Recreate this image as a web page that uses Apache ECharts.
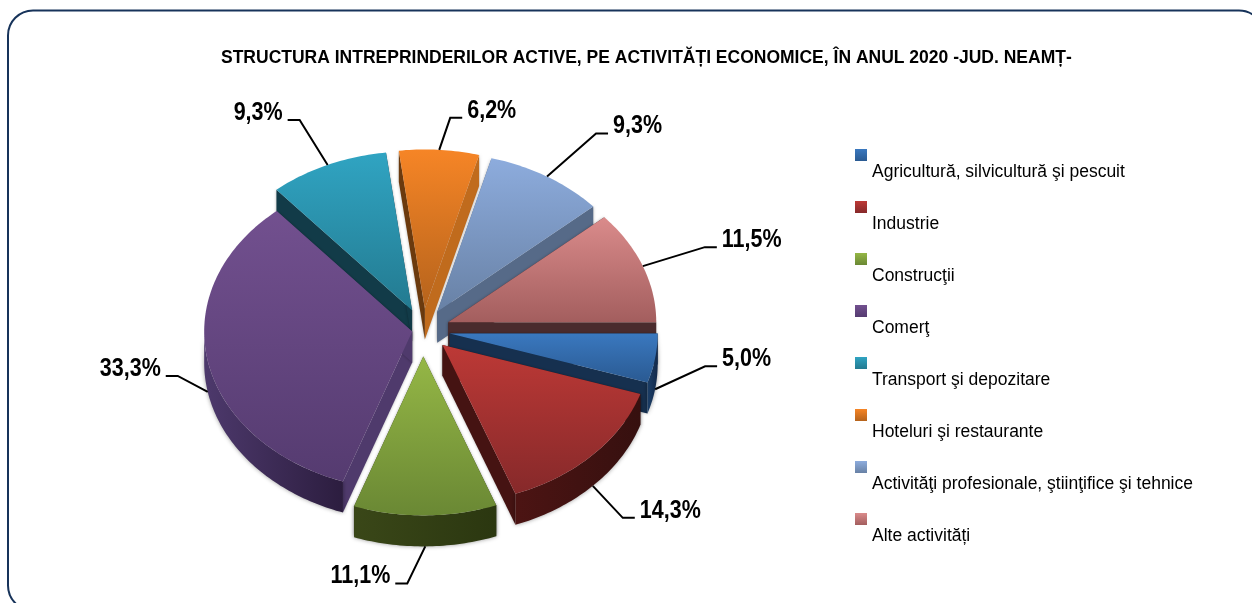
<!DOCTYPE html>
<html><head><meta charset="utf-8">
<style>html,body{margin:0;padding:0;background:#fff}#c{width:1252px;height:603px}</style>
<script src="https://cdn.jsdelivr.net/npm/echarts@6/dist/echarts.min.js"></script>
</head><body><div id="c"></div>
<script>
const titleText = 'STRUCTURA INTREPRINDERILOR ACTIVE, PE ACTIVITĂȚI ECONOMICE, ÎN ANUL 2020 -JUD. NEAMȚ-';
const categories = ['Agricultură, silvicultură şi pescuit','Industrie','Construcţii','Comerţ','Transport şi depozitare','Hoteluri şi restaurante','Activităţi profesionale, ştiinţifice şi tehnice','Alte activități'];
const values = [5.0,14.3,11.1,33.3,9.3,6.2,9.3,11.5];
const valueLabels = ['5,0%','14,3%','11,1%','33,3%','9,3%','6,2%','9,3%','11,5%'];

// Appearance only, separate from the data
const FONT = '"Liberation Sans",Arial,sans-serif';
const faceColors = [['#3a78bf','#2a5a92'],['#bd3936','#86292a'],['#95b746','#6a8834'],['#72508f','#553b70'],['#30a4c2','#237a90'],['#f68526','#b5631c'],['#8dacdd','#6881a5'],['#da8b8b','#a35e5e']];
const edgeWall = [['#16304f','#16304f'],['#451312','#451312'],['#2e3a12','#2e3a12'],['#4f3a6c','#4f3a6c'],['#123b48','#123b48'],['#6b3a0e','#c06b1d'],['#566a88','#566a88'],['#4a2b2d','#4a2b2d']];
const outerWall = [['#1c3f68','#13294a'],['#4c1413','#36100f'],['#3a4718','#2b3710'],['#4d396c','#2c1d3f'],['#123b48','#123b48'],['#6b3a0e','#6b3a0e'],['#566a88','#566a88'],['#4a2b2d','#4a2b2d']];
const explode = [27,27,33,11,27,27,27,27];
const leaderOffset = [[50,-23],[30,32],[-18,37],[-30,-16],[-28,-45],[11,-32],[49,-43],[62,-19]];
const paintOrder = [4,5,6,7,3,0,1,2];

const CX = 423, CY = 330, RX = 208, RY = 159, DEPTH = 31, TILT = 0.8;
const total = values.reduce((a,b)=>a+b,0);
const startAngles = []; { let a = 0; values.forEach(v=>{ startAngles.push(a); a += v/total*360; }); }
const rad = d => d*Math.PI/180;
const grad = (c, horizontal) => new echarts.graphic.LinearGradient(0,0,horizontal?1:0,horizontal?0:1,[{offset:0,color:c[0]},{offset:1,color:c[1]}]);
// legend swatch: the icon's box reaches down to the text centre line, the visible square sits on top
const LEGEND_ICON = 'path://M0 0h12v12h-12z M0 46h.01v.01h-.01z';
const iconFill = c => new echarts.graphic.LinearGradient(0,0,0,1,[{offset:0,color:c[0]},{offset:12/46,color:c[1]},{offset:1,color:c[1]}]);

function renderSlice(params, api){
  const i = params.seriesIndex;
  const value = api.value(0);
  const a0 = startAngles[i], a1 = a0 + value/total*360, mid = (a0+a1)/2;
  const ax = CX + explode[i]*Math.cos(rad(mid));
  const ay = CY + explode[i]*TILT*Math.sin(rad(mid));
  const P = a => [ax+RX*Math.cos(rad(a)), ay+RY*Math.sin(rad(a))];
  const down = p => [p[0],p[1]+DEPTH];
  const arc = (s,e) => { const r=[]; const n=Math.max(2,Math.ceil(Math.abs(e-s))); for(let k=0;k<=n;k++) r.push(P(s+(e-s)*k/n)); return r; };
  const kids = [];
  const wall = (pts,fill,extra) => kids.push({type:'polygon',shape:{points:pts},style:Object.assign({fill:fill,stroke:null},extra||{})});
  const A=[ax,ay], B=P(a0), E=P(a1);
  const soft = {shadowBlur:3,shadowColor:'rgba(0,0,0,.3)'};
  wall([A,B,down(B),down(A)], edgeWall[i][0], soft);
  wall([A,E,down(E),down(A)], edgeWall[i][1], soft);
  const s=Math.max(a0,0), e=Math.min(a1,180);
  if(e>s){
    const top=arc(s,e);
    wall(top.concat(top.slice().reverse().map(down)), grad(outerWall[i],true), {shadowBlur:4,shadowColor:'rgba(0,0,0,.4)'});
  }
  kids.push({type:'polygon',shape:{points:[A].concat(arc(a0,a1))},style:{fill:grad(faceColors[i],false)}});
  let anchor = P(mid);
  if(Math.sin(rad(mid))>0) anchor = down(anchor);
  const off = leaderOffset[i];
  const elbow = [anchor[0]+off[0],anchor[1]+off[1]];
  const sign = off[0]>0?1:-1;
  const stub = [elbow[0]+sign*12,elbow[1]];
  kids.push({type:'polyline',shape:{points:[anchor,elbow,stub]},style:{stroke:'#000',lineWidth:2,fill:null}});
  kids.push({type:'text',x:stub[0]+sign*5,y:stub[1]-7,scaleX:0.86,style:{text:valueLabels[i],
    align:sign>0?'left':'right',verticalAlign:'middle',fill:'#000',font:'bold 25px '+FONT}});
  return {type:'group',children:kids};
}

const chart = echarts.init(document.getElementById('c'),null,{renderer:'canvas'});
chart.setOption({
  animation:false,
  backgroundColor:'#fff',
  title:{text:titleText,left:221,top:49,padding:0,textStyle:{fontFamily:FONT,fontWeight:'bold',fontSize:17.5,color:'#000'}},
  legend:{orient:'vertical',left:855,top:149,padding:0,icon:LEGEND_ICON,itemWidth:12,itemHeight:46,itemGap:6,selectedMode:false,
    textStyle:{fontFamily:FONT,fontSize:17.5,color:'#000'},
    data:categories.map((n,i)=>({name:n,itemStyle:{color:iconFill(faceColors[i])}}))},
  graphic:[{type:'rect',shape:{x:8,y:10.5,width:1256,height:600,r:25},style:{fill:null,stroke:'#17335a',lineWidth:2},silent:true,z:-1}],
  series:categories.map((n,i)=>({type:'custom',name:n,coordinateSystem:'none',renderItem:renderSlice,
    z:2+paintOrder.indexOf(i),clip:false,silent:true,data:[[values[i]]]}))
});
</script></body></html>
